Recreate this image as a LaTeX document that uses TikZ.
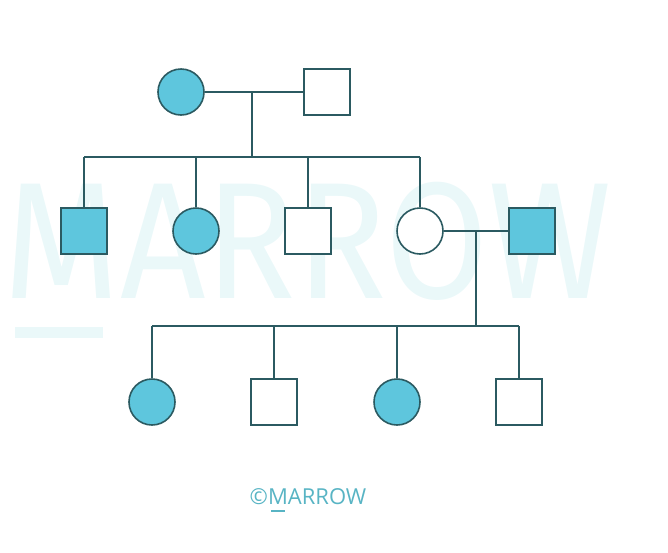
\documentclass[tikz,border=0pt]{standalone}
\usepackage{fontspec}
\setsansfont{Fira Sans}
\newfontfamily\copyfont{Open Sans}
\definecolor{lineclr}{HTML}{2B5A61}
\definecolor{affclr}{HTML}{5EC6DD}
\definecolor{markclr}{HTML}{EAF8F9}
\definecolor{copyclr}{HTML}{58B4C4}
\begin{document}
\begin{tikzpicture}[x=1pt,y=-1pt, line width=1.6pt, draw=lineclr]
\useasboundingbox (0,0) rectangle (668,552);
% watermark
\node[text=markclr, font=\sffamily\fontsize{166}{166}\selectfont, inner sep=0, anchor=base, xscale=0.9] (wm) at (308,298) {MARROW};
\fill[markclr] (15,327) rectangle (103,338);
% generation I
\node[circle, minimum size=46, draw, fill=affclr] (pid0) at (181,92){};
\node[rectangle, minimum size=46, draw, fill=white] (pid1) at (327,92){};
\coordinate (mid0) at (252,92);
\coordinate (sib0) at (252,157);
\draw[](pid0) -- (pid1);
\draw[](mid0) -- (sib0);
% generation II
\node[rectangle, minimum size=46, draw, fill=affclr] (pid2) at (84,231){};
\node[circle, minimum size=46, draw, fill=affclr] (pid3) at (196,231){};
\node[rectangle, minimum size=46, draw, fill=white] (pid4) at (308,231){};
\node[circle, minimum size=46, draw, fill=white] (pid5) at (420,231){};
\node[rectangle, minimum size=46, draw, fill=affclr] (pid6) at (532,231){};
\coordinate (top2) at (84,157);
\coordinate (top3) at (196,157);
\coordinate (top4) at (308,157);
\coordinate (top5) at (420,157);
\draw[](top2) -- (top5);
\draw[](top2) -- (pid2);
\draw[](top3) -- (pid3);
\draw[](top4) -- (pid4);
\draw[](top5) -- (pid5);
\draw[](pid5) -- (pid6);
\coordinate (mid1) at (476,231);
\coordinate (sib1) at (476,326);
\draw[](mid1) -- (sib1);
% generation III
\node[circle, minimum size=46, draw, fill=affclr] (pid7) at (152,402){};
\node[rectangle, minimum size=46, draw, fill=white] (pid8) at (274,402){};
\node[circle, minimum size=46, draw, fill=affclr] (pid9) at (397,402){};
\node[rectangle, minimum size=46, draw, fill=white] (pid10) at (519,402){};
\coordinate (top7) at (152,326);
\coordinate (top8) at (274,326);
\coordinate (top9) at (397,326);
\coordinate (top10) at (519,326);
\draw[](top7) -- (top10);
\draw[](top7) -- (pid7);
\draw[](top8) -- (pid8);
\draw[](top9) -- (pid9);
\draw[](top10) -- (pid10);
% copyright
\node[text=copyclr, font=\copyfont\fontsize{22}{22}\selectfont, inner sep=0] (cr) at (308,497) {\textcopyright MARROW};
\draw[copyclr, line width=1.2pt] (271,511) -- (285,511);
\end{tikzpicture}
\end{document}
